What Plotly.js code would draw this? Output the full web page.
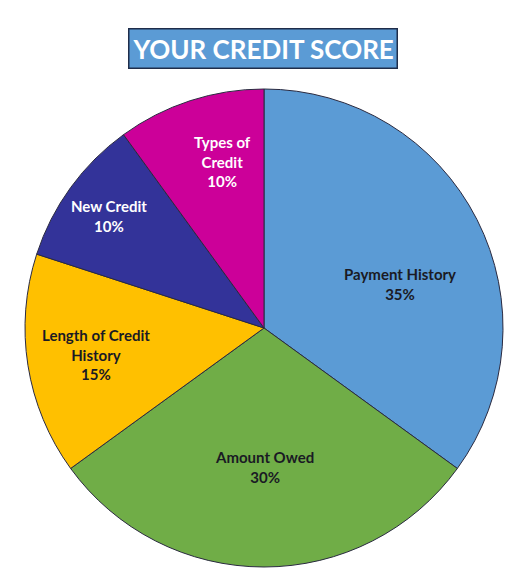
<!DOCTYPE html>
<html>
<head>
<meta charset="utf-8">
<script src="https://cdn.plot.ly/plotly-3.0.1.min.js"></script>
<style>html,body{margin:0;padding:0;background:#fff;}#chart{width:517px;height:581px;}</style>
</head>
<body>
<div id="chart"></div>
<script>
const categories = ["Payment History", "Amount Owed", "Length of Credit<br>History", "New Credit", "Types of<br>Credit"];
const values = [35, 30, 15, 10, 10];
const colors = ["#5B9BD5", "#70AD47", "#FFC000", "#333399", "#CC0099"];
const textColors = ["#1a1a24", "#1a1a24", "#1a1a24", "#ffffff", "#ffffff"];
const chartTitle = "YOUR CREDIT SCORE";

// label placement style (fraction of radius, angular nudge in degrees)
const labelRadius = [0.60, 0.58, 0.71, 0.80, 0.72];
const labelAngleShift = [9, 0, 0, 0, 4];

const W = 517, H = 581;
const cx = 264, cy = 328, R = 239;

const trace = {
  type: "pie",
  labels: categories,
  values: values,
  sort: false,
  direction: "clockwise",
  rotation: 0,
  marker: {colors: colors, line: {color: "#2a2a40", width: 1}},
  textinfo: "none",
  hoverinfo: "none",
  showlegend: false,
  domain: {x: [(cx - R) / W, (cx + R) / W], y: [(H - cy - R) / H, (H - cy + R) / H]}
};

const total = values.reduce((a, b) => a + b, 0);
let cum = 0;
const labelAnns = values.map((v, i) => {
  const mid = (cum + v / 2) / total * 360 + labelAngleShift[i];
  cum += v;
  const a = mid * Math.PI / 180;
  const px = cx + labelRadius[i] * R * Math.sin(a);
  const py = cy - labelRadius[i] * R * Math.cos(a);
  return {
    text: "<b>" + categories[i] + "<br>" + v + "%</b>",
    xref: "paper", yref: "paper",
    x: px / W, y: 1 - py / H,
    xanchor: "center", yanchor: "middle",
    showarrow: false, align: "center",
    font: {family: "Lato, 'Open Sans', sans-serif", size: 15, color: textColors[i]}
  };
});

const layout = {
  width: W, height: H,
  margin: {l: 0, r: 0, t: 0, b: 0},
  paper_bgcolor: "#ffffff",
  showlegend: false,
  annotations: [{
    text: "<b>" + chartTitle + "</b>",
    xref: "paper", yref: "paper",
    x: 263 / W, y: 1 - 49 / H,
    xanchor: "center", yanchor: "middle",
    showarrow: false,
    font: {family: "Lato, 'Open Sans', sans-serif", size: 26, color: "#ffffff"},
    bgcolor: "#5B9BD5",
    bordercolor: "#1f2d4a",
    borderwidth: 1.5,
    borderpad: 3
  }].concat(labelAnns)
};

Plotly.newPlot("chart", [trace], layout, {staticPlot: true});
</script>
</body>
</html>
